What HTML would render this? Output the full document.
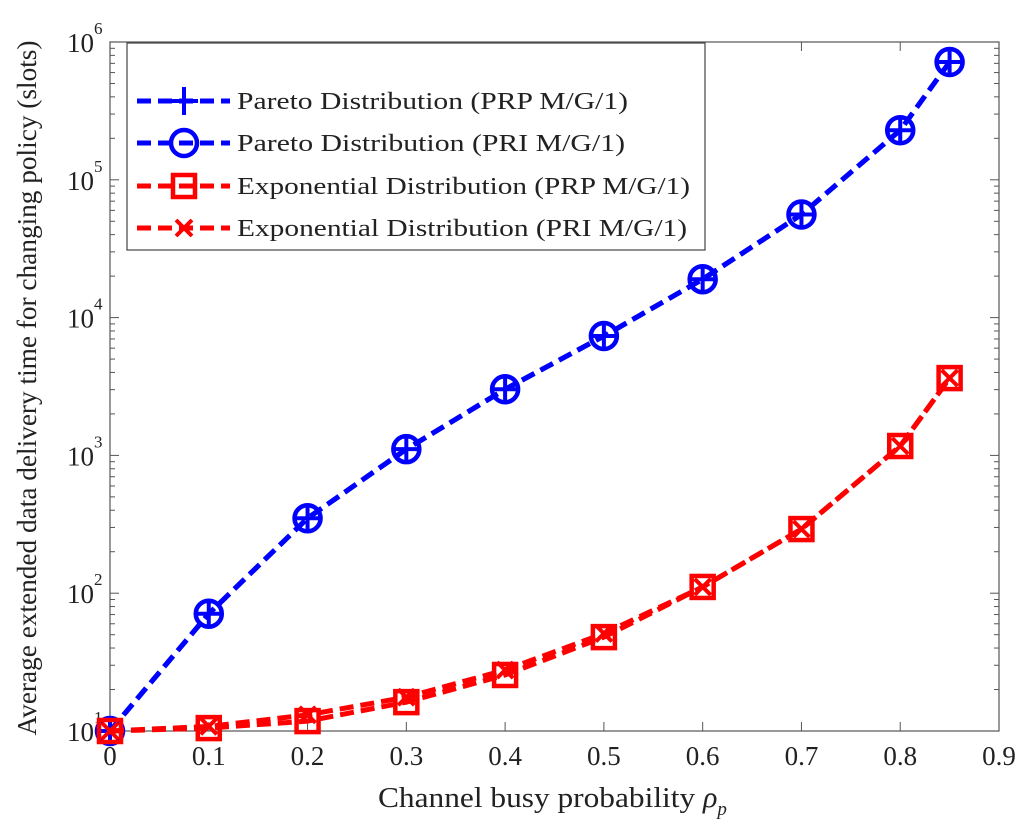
<!DOCTYPE html>
<html><head><meta charset="utf-8"><style>
body{margin:0;background:#fff}
svg{display:block;font-family:"Liberation Serif",serif}
</style></head><body>
<svg id="c" width="1024" height="827"></svg>
<script>
const xCats=[0,0.1,0.2,0.3,0.4,0.5,0.6,0.7,0.8,0.85];
const paretoPRP=[10,71,350,1110,3020,7350,19000,56000,229000,716000];
const paretoPRI=[10,71,350,1110,3020,7350,19000,56000,229000,716000];
const expPRP=[10,10.5,11.8,16.2,25.5,48,111,292,1170,3640];
const expPRI=[10,10.8,13.1,17.6,27.7,51,111,292,1170,3640];
const xTicks=[0,0.1,0.2,0.3,0.4,0.5,0.6,0.7,0.8,0.9];
const xTickLabels=["0","0.1","0.2","0.3","0.4","0.5","0.6","0.7","0.8","0.9"];
const yExps=[1,2,3,4,5,6];
const L=110,R=999,T=42,B=731;
const sx=v=>L+v/0.9*(R-L);
const sy=v=>B-(Math.log10(v)-1)/5*(B-T);
const NS="http://www.w3.org/2000/svg";
const svg=document.getElementById('c');
function mk(t,a,p){const e=document.createElementNS(NS,t);for(const k in a)e.setAttribute(k,a[k]);(p||svg).appendChild(e);return e;}
const box=mk('rect',{x:L,y:T,width:R-L,height:B-T,fill:'none',stroke:'#555','stroke-width':1.2});


xTicks.forEach((v,i)=>{
 const x=sx(v);
 mk('line',{x1:x,y1:B,x2:x,y2:B-9,stroke:'#555'});
 mk('line',{x1:x,y1:T,x2:x,y2:T+9,stroke:'#555'});
 const t=mk('text',{x:x,y:B+34,'font-size':27,'text-anchor':'middle',fill:'#222'});
 t.textContent=xTickLabels[i];
 
 
});
yExps.forEach(e=>{
 const y=sy(Math.pow(10,e));
 mk('line',{x1:L,y1:y,x2:L+9,y2:y,stroke:'#555'});
 mk('line',{x1:R,y1:y,x2:R-9,y2:y,stroke:'#555'});
 const t=mk('text',{x:L-16,y:y+10,'font-size':27,'text-anchor':'end',fill:'#222'});
 t.textContent='10';
 
 
 const s=mk('text',{x:L-16,y:y-8,'font-size':17,'text-anchor':'start',fill:'#222'});
 s.textContent=String(e);
 if(e<6){for(let m=2;m<10;m++){const ym=sy(m*Math.pow(10,e));
  mk('line',{x1:L,y1:ym,x2:L+5,y2:ym,stroke:'#555'});
  mk('line',{x1:R,y1:ym,x2:R-5,y2:ym,stroke:'#555'});}}
});
function series(vals,color,marker,name){
 const g=mk('g',{});
 
 
 const pts=vals.map((v,i)=>[sx(xCats[i]),sy(v)]);
 mk('polyline',{points:pts.map(p=>p.join(',')).join(' '),fill:'none',stroke:color,'stroke-width':5,'stroke-dasharray':'14,7'},g);
 pts.forEach(p=>drawMarker(g,p[0],p[1],marker,color));
}
function drawMarker(g,x,y,m,c){
 if(m==='plus'){mk('path',{d:`M${x-14},${y}H${x+14}M${x},${y-14}V${y+14}`,stroke:c,'stroke-width':4},g);}
 if(m==='circle'){mk('circle',{cx:x,cy:y,r:13,fill:'none',stroke:c,'stroke-width':4.5},g);}
 if(m==='square'){mk('rect',{x:x-11,y:y-11,width:22,height:22,fill:'none',stroke:c,'stroke-width':4.5},g);}
 if(m==='cross'){mk('path',{d:`M${x-8},${y-8}L${x+8},${y+8}M${x-8},${y+8}L${x+8},${y-8}`,stroke:c,'stroke-width':4},g);}
}
series(paretoPRP,'#0000ff','plus','series-pareto-prp');
series(paretoPRI,'#0000ff','circle','series-pareto-pri');
series(expPRP,'#ff0000','square','series-exp-prp');
series(expPRI,'#ff0000','cross','series-exp-pri');
const lg=mk('g',{});


mk('rect',{x:127,y:43,width:578,height:207,fill:'#fff',stroke:'#444','stroke-width':1.2},lg);
const legItems=[['Pareto Distribution (PRP M/G/1)','#0000ff','plus',391],['Pareto Distribution (PRI M/G/1)','#0000ff','circle',388],['Exponential Distribution (PRP M/G/1)','#ff0000','square',453],['Exponential Distribution (PRI M/G/1)','#ff0000','cross',450]];
const legY=[101,143,186,228];
legItems.forEach((it,i)=>{
 const e=mk('g',{},lg);
 
 
 const y=legY[i];
 mk('line',{x1:137,y1:y,x2:230,y2:y,stroke:it[1],'stroke-width':5,'stroke-dasharray':'14,7'},e);
 drawMarker(e,184,y,it[2],it[1]);
 const t=mk('text',{x:237,y:y+8,'font-size':24,fill:'#222',textLength:it[3],lengthAdjust:'spacingAndGlyphs'},e);
 t.textContent=it[0];
});
const xt=mk('text',{x:378,y:807,'font-size':28,fill:'#222'});
xt.innerHTML='<tspan textLength="325" lengthAdjust="spacingAndGlyphs">Channel busy probability </tspan><tspan font-style="italic" font-size="30">ρ</tspan><tspan font-style="italic" font-size="19" dy="8">p</tspan>';


const yt=mk('text',{x:0,y:0,'font-size':27,'text-anchor':'middle',fill:'#222',textLength:695,lengthAdjust:'spacingAndGlyphs',transform:'translate(36,388) rotate(-90)'});
yt.textContent='Average extended data delivery time for changing policy (slots)';


</script>
</body></html>
